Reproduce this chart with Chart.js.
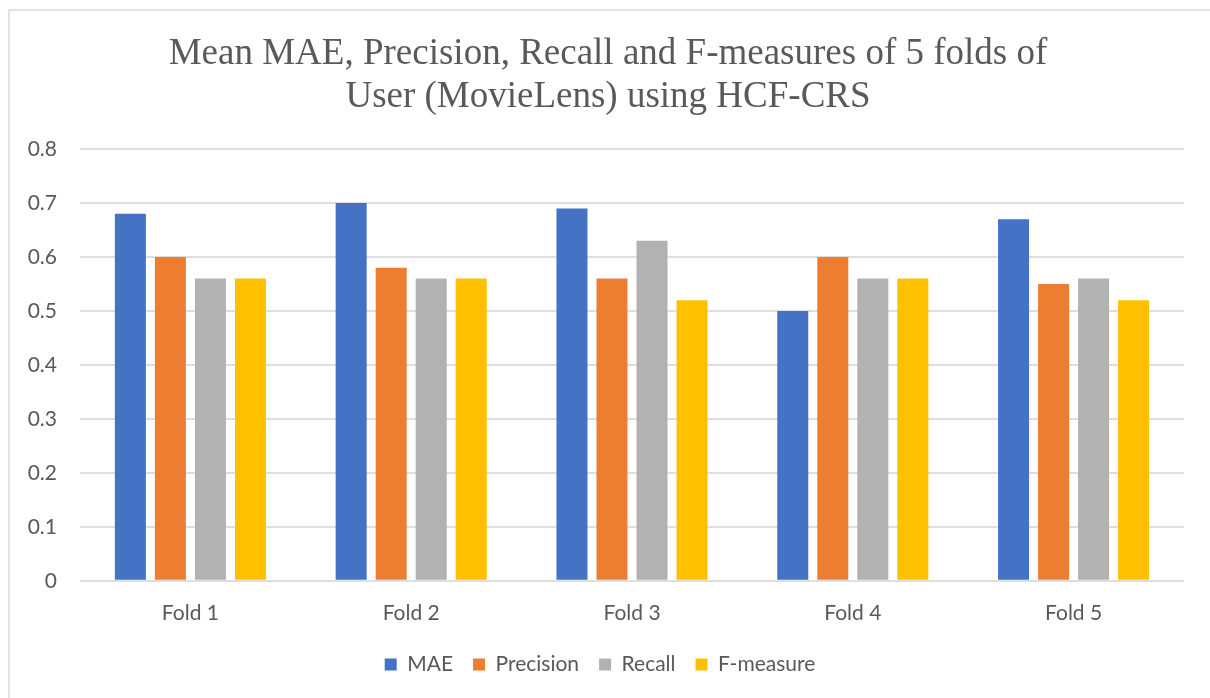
<!DOCTYPE html>
<html lang="en">
<head>
    <meta charset="UTF-8">
    <title>Mean MAE, Precision, Recall and F-measures</title>
    <style>
        body {
            margin: 0;
            padding: 0;
            background-color: #fff;
            width: 1210px;
            height: 698px;
            overflow: hidden;
            position: relative;
        }

        .frame {
            position: absolute;
            left: 8px;
            top: 9px;
            width: 1220px;
            height: 700px;
            border: 2px solid #e3e3e3;
        }

        #chart-wrap {
            position: absolute;
            left: 0;
            top: 0;
            width: 1210px;
            height: 698px;
        }
    </style>
</head>
<body>
    <div class="frame"></div>
    <div id="chart-wrap">
        <canvas id="chart"></canvas>
    </div>

    <script src="https://cdn.jsdelivr.net/npm/chart.js"></script>
    <script>
        const folds = ['Fold 1', 'Fold 2', 'Fold 3', 'Fold 4', 'Fold 5'];
        const maeValues = [0.68, 0.70, 0.69, 0.50, 0.67];
        const precisionValues = [0.60, 0.58, 0.56, 0.60, 0.55];
        const recallValues = [0.56, 0.56, 0.63, 0.56, 0.56];
        const fMeasureValues = [0.56, 0.56, 0.52, 0.56, 0.52];
        const yTicks = [0, 0.1, 0.2, 0.3, 0.4, 0.5, 0.6, 0.7, 0.8];

        const textColor = '#595959';
        const sansFont = 'Lato, "Open Sans", sans-serif';

        function makeSet(label, values, color) {
            return {
                label: label,
                data: values,
                backgroundColor: color,
                borderWidth: 0,
                barPercentage: 0.775,
                categoryPercentage: 0.725,
            };
        }

        // nudge title / legend after layout so the plot area keeps its place
        const nudgeBoxes = {
            id: 'nudgeBoxes',
            afterLayout(chart) {
                const lg = chart.legend;
                lg.top -= 12; lg.bottom -= 12;
                lg.left += 8; lg.right += 8;
                const tt = chart.titleBlock;
                if (tt) { tt.left += 16; tt.right += 16; }
            },
        };

        const ctx = document.getElementById('chart').getContext('2d');
        new Chart(ctx, {
            type: 'bar',
            data: {
                labels: folds,
                datasets: [
                    makeSet('MAE', maeValues, '#4472C4'),
                    makeSet('Precision', precisionValues, '#ED7D31'),
                    makeSet('Recall', recallValues, '#B2B2B2'),
                    makeSet('F-measure', fMeasureValues, '#FFC000'),
                ],
            },
            plugins: [nudgeBoxes],
            options: {
                responsive: true,
                maintainAspectRatio: false,
                animation: false,
                layout: {
                    padding: { left: 0, right: 26, top: 10, bottom: 1 },
                },
                plugins: {
                    title: {
                        display: true,
                        text: ['Mean MAE, Precision, Recall and F-measures of 5 folds of',
                               'User (MovieLens) using HCF-CRS'],
                        color: textColor,
                        font: { family: '"Liberation Serif", "Times New Roman", serif', size: 37, weight: 'normal', lineHeight: 1.15 },
                        padding: { top: 23, bottom: 31 },
                    },
                    legend: {
                        position: 'bottom',
                        labels: {
                            color: textColor,
                            font: { family: sansFont, size: 21 },
                            boxWidth: 12,
                            boxHeight: 12,
                            padding: 20,
                        },
                    },
                    tooltip: { enabled: false },
                },
                scales: {
                    x: {
                        grid: { display: false, drawTicks: false },
                        border: { display: false },
                        ticks: {
                            color: textColor,
                            font: { family: sansFont, size: 21 },
                            padding: 20,
                        },
                    },
                    y: {
                        min: 0,
                        max: 0.8,
                        afterFit: (scale) => { scale.width = 80; },
                        afterBuildTicks: (scale) => {
                            scale.ticks = yTicks.map((v) => ({ value: v }));
                        },
                        grid: { color: '#dedede', lineWidth: 2, drawTicks: false },
                        border: { display: false },
                        ticks: {
                            color: textColor,
                            font: { family: sansFont, size: 21 },
                            padding: 23,
                            callback: (v) => String(Math.round(v * 10) / 10),
                        },
                    },
                },
            },
        });
    </script>
</body>
</html>
